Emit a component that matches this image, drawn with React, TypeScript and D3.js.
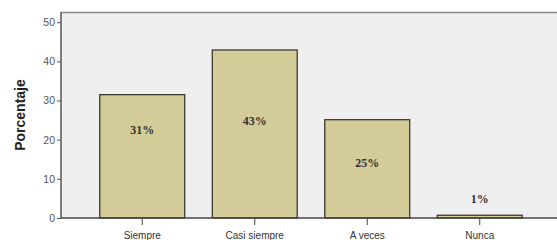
import * as d3 from "d3";
import { useEffect, useRef } from "react";

// datos
const categorias = ["Siempre", "Casi siempre", "A veces", "Nunca"];
const porcentajes = [31.5, 42.9, 25.1, 0.7];
const etiquetas = ["31%", "43%", "25%", "1%"];
const posEtiqueta = [22.5, 24.8, 14, 4.8]; // altura de la etiqueta en unidades del eje
const ticksY = [0, 10, 20, 30, 40, 50];

const W = 557;
const H = 240;

export default function App() {
  const ref = useRef<SVGSVGElement>(null);

  // margenes del area de graficos
  const margin = { top: 12, bottom: 22, left: 61, right: 0 };

  useEffect(() => {
    const svg = d3.select(ref.current);
    svg.selectAll("*").remove();

    const baseY = H - margin.bottom;

    const scaleY = d3.scaleLinear().domain([0, 52.6]).range([baseY, margin.top]);
    const scaleX = d3
      .scaleBand()
      .domain(categorias)
      .range([86, 536])
      .paddingInner(0.245)
      .paddingOuter(0.1225);

    // fondo del area
    svg.append("rect")
      .attr("x", margin.left)
      .attr("y", margin.top)
      .attr("width", W - margin.left)
      .attr("height", baseY - margin.top)
      .style("fill", "#efefef");

    // borde superior
    svg.append("line")
      .attr("x1", margin.left).attr("x2", W)
      .attr("y1", margin.top + 0.5).attr("y2", margin.top + 0.5)
      .style("stroke", "#8a8a8a").style("stroke-width", 1.5);

    // barras
    svg.selectAll(".bar")
      .data(porcentajes)
      .enter()
      .append("rect")
      .attr("x", (d, i) => scaleX(categorias[i])!)
      .attr("y", d => scaleY(d))
      .attr("width", scaleX.bandwidth())
      .attr("height", d => baseY - scaleY(d))
      .style("fill", "#d4cc98")
      .style("stroke", "#3a3a32")
      .style("stroke-width", 1.3);

    // etiquetas de porcentaje
    svg.selectAll(".lbl")
      .data(etiquetas)
      .enter()
      .append("text")
      .attr("x", (d, i) => scaleX(categorias[i])! + scaleX.bandwidth() / 2)
      .attr("y", (d, i) => scaleY(posEtiqueta[i]))
      .attr("dy", "0.35em")
      .attr("text-anchor", "middle")
      .style("font-family", "'Liberation Serif', 'Times New Roman', serif")
      .style("font-size", "12px")
      .style("font-weight", "bold")
      .style("fill", "#333")
      .text(d => d);

    // eje Y
    const yAxis = d3.axisLeft(scaleY).tickValues(ticksY).tickSize(4).tickPadding(2);
    const gy = svg.append("g")
      .attr("transform", `translate(${margin.left}, 0)`)
      .call(yAxis);
    gy.select(".domain").remove();
    gy.selectAll("line").style("stroke", "#555");
    gy.selectAll("text")
      .style("font-family", "Arial, 'Liberation Sans', sans-serif")
      .style("font-size", "10.5px")
      .style("fill", "#555");
    svg.append("line")
      .attr("x1", margin.left).attr("x2", margin.left)
      .attr("y1", margin.top).attr("y2", baseY)
      .style("stroke", "#555").style("stroke-width", 1.5);

    // eje X
    const xAxis = d3.axisBottom(scaleX).tickSize(7).tickPadding(7);
    const gx = svg.append("g")
      .attr("transform", `translate(0, ${baseY})`)
      .call(xAxis);
    gx.select(".domain").remove();
    gx.selectAll("line").style("stroke", "#444");
    gx.selectAll("text")
      .style("font-family", "Arial, 'Liberation Sans', sans-serif")
      .style("font-size", "10px")
      .style("fill", "#333");
    svg.append("line")
      .attr("x1", margin.left).attr("x2", W)
      .attr("y1", baseY).attr("y2", baseY)
      .style("stroke", "#444").style("stroke-width", 1.3);

    // titulo eje Y
    svg.append("text")
      .attr("transform", `translate(25, 115) rotate(-90)`)
      .attr("text-anchor", "middle")
      .style("font-family", "Arial, 'Liberation Sans', sans-serif")
      .style("font-size", "14px")
      .style("font-weight", "bold")
      .style("fill", "#222")
      .text("Porcentaje");
  }, []);

  return (
    <svg
      ref={ref}
      width={W}
      height={H}
      style={{ position: "absolute", left: 0, top: 0, background: "#fff" }}
    ></svg>
  );
}
